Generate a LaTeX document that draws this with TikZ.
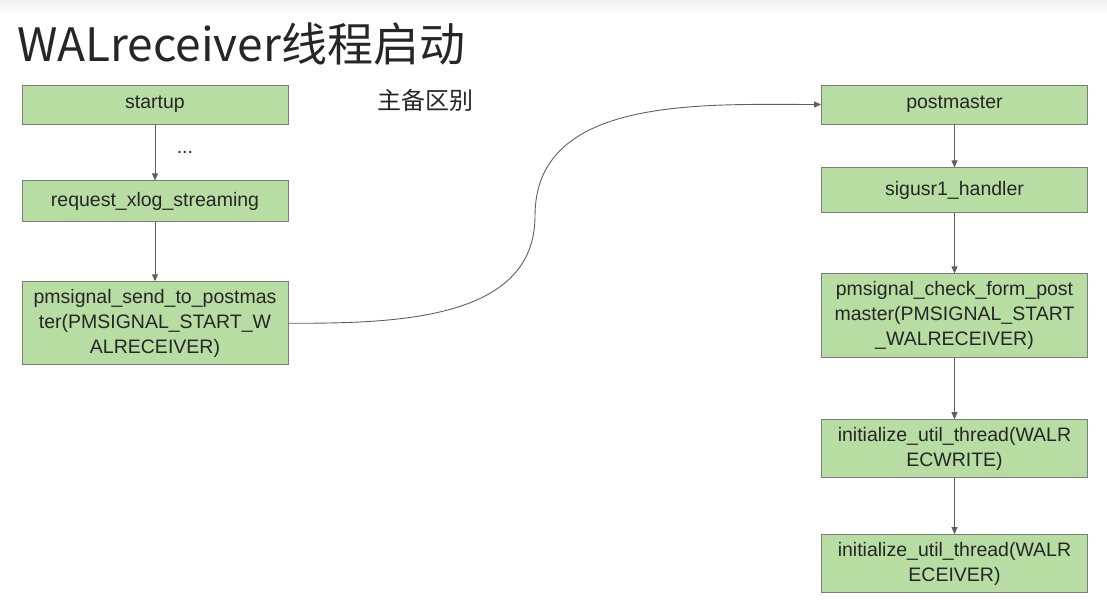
\documentclass[tikz,border=0pt]{standalone}
\usepackage{fontspec}
\setmainfont{Liberation Sans}
\newfontfamily\cjk{Noto Sans CJK SC}
\usetikzlibrary{arrows.meta,positioning}
\definecolor{boxgreen}{RGB}{183,221,163}
\definecolor{boxline}{RGB}{125,125,125}
\definecolor{flowline}{RGB}{95,95,95}

\begin{document}
\begin{tikzpicture}[x=1pt, y=1pt,
    node distance=56pt,
    box/.style={rectangle, draw=boxline, fill=boxgreen, line width=0.9pt, minimum width=266pt, minimum height=40pt, text width=258pt, align=center, inner xsep=4pt, inner ysep=3pt, text=black!85, font=\fontsize{19.5}{25}\selectfont},
    arrow/.style={-{Triangle[length=7pt, width=6pt]}, draw=flowline, line width=0.9pt},
]
    \useasboundingbox (0,0) rectangle (1107,612);
    \shade[top color=black!6, bottom color=white] (0,598) rectangle (1107,612);

    \node[anchor=base west, inner sep=0pt, text=black!85, font=\cjk\fontsize{46}{50}\selectfont] (title) at (17,550) {WALreceiver线程启动};
    \node[text=black!85, font=\cjk\fontsize{24}{28}\selectfont] (diff) at (425,512) {主备区别};

    % standby side
    \node[box, minimum height=39pt] (startup) at (155,507.5) {startup};
    \node[box, minimum height=41pt, below=56pt of startup] (request) {request\_xlog\_streaming};
    \node[box, minimum height=83pt, below=59pt of request] (send) {pmsignal\_send\_to\_postmas\\ter(PMSIGNAL\_START\_W\\ALRECEIVER)};

    % primary side
    \node[box, minimum height=39pt] (postmaster) at (954.5,507.5) {postmaster};
    \node[box, minimum height=45pt, below=43pt of postmaster] (sigusr) {sigusr1\_handler};
    \node[box, minimum height=84pt, below=60pt of sigusr] (check) {pmsignal\_check\_form\_post\\master(PMSIGNAL\_START\\\_WALRECEIVER)};
    \node[box, minimum height=58pt, below=61pt of check] (recwrite) {initialize\_util\_thread(WALR\\ECWRITE)};
    \node[box, minimum height=58pt, below=56pt of recwrite] (receiver) {initialize\_util\_thread(WALR\\ECEIVER)};

    \draw[arrow] (startup) -- node[right=18pt, text=black!85, font=\fontsize{19.5}{22}\selectfont] (dots) {...} (request);
    \draw[arrow] (request) -- (send);
    \draw[arrow] (postmaster) -- (sigusr);
    \draw[arrow] (sigusr) -- (check);
    \draw[arrow] (check) -- (recwrite);
    \draw[arrow] (recwrite) -- (receiver);

    \coordinate (sbend) at (535,396);
    \draw[arrow] (send.east) to[out=0, in=-90] (sbend) to[out=90, in=180] (postmaster.west);
\end{tikzpicture}
\end{document}
